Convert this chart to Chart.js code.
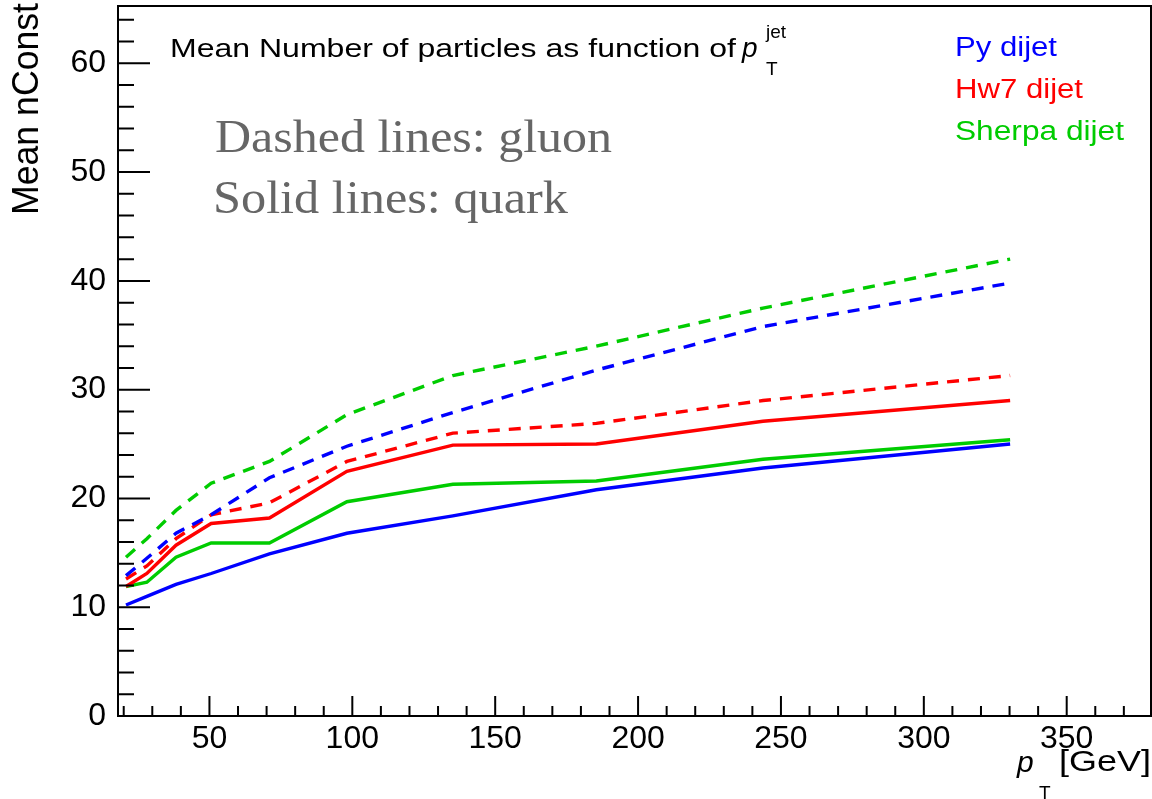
<!DOCTYPE html>
<html>
<head>
<meta charset="utf-8">
<script src="https://cdn.jsdelivr.net/npm/chart.js@4.4.0/dist/chart.umd.min.js"></script>
<style>
html,body{margin:0;padding:0;background:#fff;}
#wrap{width:1152px;height:799px;position:relative;}
</style>
</head>
<body>
<div id="wrap"><canvas id="c" width="1152" height="799"></canvas></div>
<script>
// ---- data ----
const ptValues = [20.8, 28.1, 38.3, 50.6, 71.0, 98.1, 135.2, 185.4, 243.7, 330.2];
const pyQuark     = [10.2, 11.0, 12.1, 13.1, 14.9, 16.8, 18.4, 20.8, 22.8, 25.0];
const hw7Quark    = [11.9, 13.1, 15.7, 17.7, 18.2, 22.5, 24.9, 25.0, 27.1, 29.0];
const sherpaQuark = [11.9, 12.3, 14.6, 15.9, 15.9, 19.7, 21.3, 21.6, 23.6, 25.4];
const pyGluon     = [12.9, 14.5, 16.8, 18.5, 21.9, 24.8, 27.9, 31.8, 35.8, 39.8];
const hw7Gluon    = [12.6, 13.8, 16.3, 18.5, 19.6, 23.4, 26.0, 26.9, 29.0, 31.3];
const sherpaGluon = [14.6, 16.3, 18.9, 21.4, 23.4, 27.7, 31.3, 34.0, 37.5, 42.0];
const xMajorTicks = [50, 100, 150, 200, 250, 300, 350];
const xMinorTicks = [20,30,40,60,70,80,90,110,120,130,140,160,170,180,190,210,220,230,240,260,270,280,290,310,320,330,340,360,370];
const yMajorTicks = [0, 10, 20, 30, 40, 50, 60];
const yMinorTicks = [2,4,6,8,12,14,16,18,22,24,26,28,32,34,36,38,42,44,46,48,52,54,56,58,62,64];
const seriesNames = ["Py dijet", "Hw7 dijet", "Sherpa dijet"];
const seriesColors = ["#0000ff", "#ff0000", "#00cc00"];

const pts = arr => ptValues.map((x, i) => ({x: x, y: arr[i]}));
const SANS = "'Liberation Sans', Arial, sans-serif";
const SERIF = "'Liberation Serif', 'DejaVu Serif', serif";

function txt(ctx, s, x, y, font, color, w) {
  ctx.save();
  ctx.font = font;
  ctx.fillStyle = color;
  ctx.textBaseline = 'alphabetic';
  ctx.textAlign = 'left';
  const m = ctx.measureText(s).width;
  ctx.translate(x, y);
  if (w) ctx.scale(w / m, 1);
  ctx.fillText(s, 0, 0);
  ctx.restore();
}

const decor = {
  id: 'decor',
  afterDraw(chart) {
    const ctx = chart.ctx, a = chart.chartArea;
    const xs = chart.scales.x, ys = chart.scales.y;
    ctx.save();
    ctx.strokeStyle = '#000';
    ctx.lineWidth = 2;
    ctx.strokeRect(a.left, a.top, a.right - a.left, a.bottom - a.top);
    ctx.lineWidth = 2;
    ctx.beginPath();
    xMajorTicks.forEach(v => { const p = xs.getPixelForValue(v); ctx.moveTo(p, a.bottom); ctx.lineTo(p, a.bottom - 20); });
    xMinorTicks.forEach(v => { const p = xs.getPixelForValue(v); ctx.moveTo(p, a.bottom); ctx.lineTo(p, a.bottom - 10); });
    yMajorTicks.forEach(v => { const p = ys.getPixelForValue(v); ctx.moveTo(a.left, p); ctx.lineTo(a.left + 32, p); });
    yMinorTicks.forEach(v => { const p = ys.getPixelForValue(v); ctx.moveTo(a.left, p); ctx.lineTo(a.left + 16, p); });
    ctx.stroke();
    ctx.restore();

    // title
    txt(ctx, "Mean Number of particles as function of", 170, 57, "26px " + SANS, "#000", 566);
    txt(ctx, "p", 742, 57, "italic 28px " + SANS, "#000");
    txt(ctx, "jet", 766, 38, "19px " + SANS, "#000");
    txt(ctx, "T", 766, 75, "19px " + SANS, "#000");

    // annotation
    txt(ctx, "Dashed lines: gluon", 215, 152, "46px " + SERIF, "#666666", 397);
    txt(ctx, "Solid lines: quark", 213, 213, "46px " + SERIF, "#666666", 355);

    // legend
    txt(ctx, seriesNames[0], 955, 56, "27px " + SANS, seriesColors[0], 102);
    txt(ctx, seriesNames[1], 955, 98, "27px " + SANS, seriesColors[1], 128);
    txt(ctx, seriesNames[2], 955, 140, "27px " + SANS, seriesColors[2], 169);

    // axis titles
    ctx.save();
    ctx.translate(38, 215);
    ctx.rotate(-Math.PI / 2);
    txt(ctx, "Mean nConst", 0, 0, "36px " + SANS, "#000", 212);
    ctx.restore();
    txt(ctx, "p", 1017, 772, "italic 30px " + SANS, "#000");
    txt(ctx, "T", 1039, 799, "19px " + SANS, "#000");
    txt(ctx, "[GeV]", 1059, 771, "30px " + SANS, "#000", 92);
  }
};

const mk = (label, data, color, dashed) => ({
  label: label, data: pts(data), borderColor: color, backgroundColor: color,
  borderWidth: 3.4, pointRadius: 0, tension: 0, fill: false,
  borderDash: dashed ? [12, 9] : []
});

const noPad = s => { s.paddingTop = 0; s.paddingBottom = 0; s.paddingLeft = 0; s.paddingRight = 0; };

new Chart(document.getElementById('c'), {
  type: 'line',
  data: {
    datasets: [
      mk(seriesNames[0] + " gluon", pyGluon, seriesColors[0], true),
      mk(seriesNames[1] + " gluon", hw7Gluon, seriesColors[1], true),
      mk(seriesNames[2] + " gluon", sherpaGluon, seriesColors[2], true),
      mk(seriesNames[0] + " quark", pyQuark, seriesColors[0], false),
      mk(seriesNames[1] + " quark", hw7Quark, seriesColors[1], false),
      mk(seriesNames[2] + " quark", sherpaQuark, seriesColors[2], false)
    ]
  },
  options: {
    responsive: false,
    animation: false,
    layout: { padding: { left: 0, right: 1, top: 6, bottom: 0 } },
    plugins: { legend: { display: false }, tooltip: { enabled: false }, title: { display: false } },
    scales: {
      x: {
        type: 'linear', min: 18, max: 379.5,
        grid: { display: false, drawTicks: false },
        border: { display: false },
        afterBuildTicks: s => { s.ticks = xMajorTicks.map(v => ({ value: v })); },
        afterFit: s => { s.height = 83; noPad(s); },
        ticks: { font: { family: SANS, size: 32 }, color: '#000', padding: 4, maxRotation: 0, autoSkip: false }
      },
      y: {
        type: 'linear', min: 0, max: 65.27,
        grid: { display: false, drawTicks: false },
        border: { display: false },
        afterBuildTicks: s => { s.ticks = yMajorTicks.map(v => ({ value: v })); },
        afterFit: s => { s.width = 118; noPad(s); },
        ticks: { font: { family: SANS, size: 32 }, color: '#000', padding: 12 }
      }
    }
  },
  plugins: [decor]
});
</script>
</body>
</html>
